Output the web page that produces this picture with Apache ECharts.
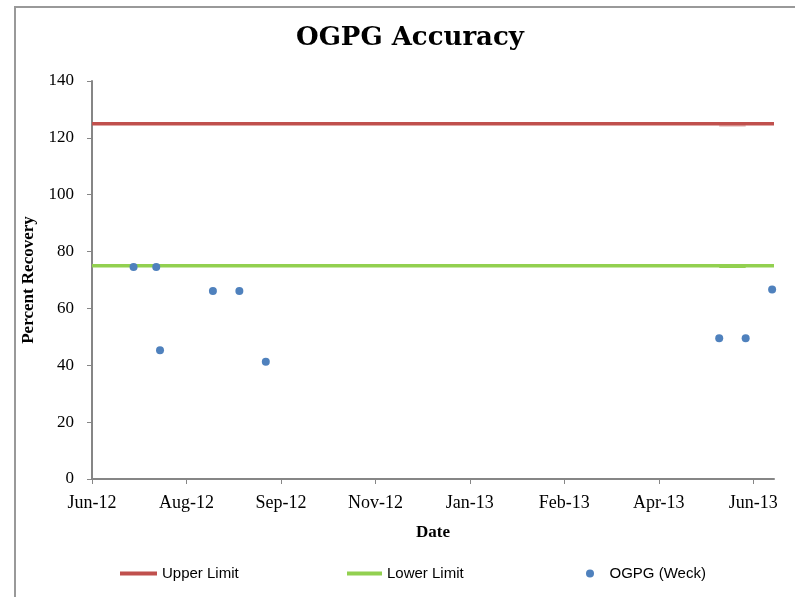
<!DOCTYPE html>
<html>
<head>
<meta charset="utf-8">
<script src="https://cdn.jsdelivr.net/npm/echarts@6/dist/echarts.min.js"></script>
<style>
  html, body { margin: 0; padding: 0; background: #fff; }
  #chart { width: 795px; height: 597px; }
</style>
</head>
<body>
<div id="chart"></div>
<script>
// axis range and tick spacing (Excel date axis, 50-day major unit)
const axisStart = '2012-06-18'
const axisEnd = '2013-06-14'
const tickDays = 50

// limit lines
const limitDates = ['2012-06-18', '2013-06-14']
const upperLimit = [125, 125]
const lowerLimit = [75, 75]
// short overlapping limit segment drawn twice in the original
const overlapDates = ['2013-05-16', '2013-05-30']
const upperOverlap = [124.5, 124.5]
const lowerOverlap = [74.8, 74.8]

// OGPG (Weck) measurements
const sampleDates = [
  '2012-07-10', '2012-07-22', '2012-07-24', '2012-08-21', '2012-09-04',
  '2012-09-18', '2013-05-16', '2013-05-30', '2013-06-13',
]
const recovery = [74.6, 74.6, 45.3, 66.1, 66.1, 41.2, 49.5, 49.5, 66.7]

const yTicks = [0, 20, 40, 60, 80, 100, 120, 140]

const DAY = 86400000
const MONTHS = ['Jan', 'Feb', 'Mar', 'Apr', 'May', 'Jun', 'Jul', 'Aug', 'Sep', 'Oct', 'Nov', 'Dec']
const toTime = (s) => {
  const p = s.split('-').map(Number)
  return Date.UTC(p[0], p[1] - 1, p[2])
}
const fmtDate = (t) => {
  const d = new Date(t)
  return MONTHS[d.getUTCMonth()] + '-' + String(d.getUTCFullYear()).slice(2)
}

const xMin = toTime(axisStart)
const xMax = toTime(axisEnd)
const xTicks = []
for (let t = xMin; t <= xMax; t += tickDays * DAY) xTicks.push(t)

const pairs = (dates, vals) => dates.map((d, i) => [toTime(d), vals[i]])

const axisGray = '#868686'
const serif = 'Liberation Serif'
const red = '#C0504D'
const green = '#92D050'
const blue = '#4F81BD'

const myChart = echarts.init(document.getElementById('chart'))

const legendText = { fontFamily: 'Liberation Sans', fontSize: 15, color: '#000' }
const legendBase = {
  top: 566,
  padding: 0,
  textStyle: legendText,
  selectedMode: false,
}

const options = {
  animation: false,
  backgroundColor: '#fff',
  textStyle: { fontFamily: serif },
  title: {
    text: 'OGPG Accuracy',
    left: 296,
    top: 25,
    padding: 0,
    textStyle: { fontFamily: 'DejaVu Serif', fontWeight: 'bold', fontSize: 26, color: '#000' },
  },
  graphic: [
    {
      type: 'rect',
      silent: true,
      shape: { x: 15, y: 7, width: 820, height: 620 },
      style: { fill: 'none', stroke: '#999', lineWidth: 2 },
    },
  ],
  legend: [
    Object.assign({}, legendBase, { left: 120, data: ['Upper Limit'], icon: 'rect', itemWidth: 37, itemHeight: 4 }),
    Object.assign({}, legendBase, { left: 347, data: ['Lower Limit'], icon: 'rect', itemWidth: 35, itemHeight: 4 }),
    Object.assign({}, legendBase, {
      left: 586,
      data: ['OGPG (Weck)'],
      icon: 'circle',
      itemWidth: 19,
      itemHeight: 8,
      textStyle: Object.assign({}, legendText, { padding: [0, 0, 0, 5] }),
    }),
  ],
  grid: { left: 92, right: 21, top: 81, bottom: 118 },
  xAxis: {
    type: 'value',
    min: xMin,
    max: xMax,
    name: 'Date',
    nameLocation: 'middle',
    nameGap: 45,
    nameTextStyle: { fontFamily: serif, fontWeight: 'bold', fontSize: 17, color: '#000' },
    axisLine: { show: true, lineStyle: { color: axisGray, width: 2 } },
    axisTick: { show: true, length: 5, lineStyle: { color: axisGray, width: 1 }, customValues: xTicks },
    axisLabel: {
      customValues: xTicks,
      formatter: fmtDate,
      margin: 15,
      fontFamily: serif,
      fontSize: 18,
      color: '#000',
    },
    splitLine: { show: false },
  },
  yAxis: {
    type: 'value',
    min: 0,
    max: 140,
    interval: 20,
    name: 'Percent Recovery',
    nameLocation: 'middle',
    nameGap: 46,
    nameTextStyle: { fontFamily: serif, fontWeight: 'bold', fontSize: 17, color: '#000' },
    axisLine: { show: true, lineStyle: { color: axisGray, width: 2 } },
    axisTick: { show: true, length: 5, lineStyle: { color: axisGray, width: 1 }, customValues: yTicks },
    axisLabel: { customValues: yTicks, margin: 18, fontFamily: serif, fontSize: 17, color: '#000' },
    splitLine: { show: false },
  },
  series: [
    {
      name: 'Upper Limit',
      type: 'line',
      symbol: 'none',
      data: pairs(overlapDates, upperOverlap),
      lineStyle: { color: red, width: 3.5, opacity: 0.35 },
      itemStyle: { color: red },
      z: 1,
    },
    {
      name: 'Lower Limit',
      type: 'line',
      symbol: 'none',
      data: pairs(overlapDates, lowerOverlap),
      lineStyle: { color: green, width: 3.5 },
      itemStyle: { color: green },
      z: 1,
    },
    {
      name: 'Upper Limit',
      type: 'line',
      symbol: 'none',
      data: pairs(limitDates, upperLimit),
      lineStyle: { color: red, width: 3.5 },
      itemStyle: { color: red },
      z: 2,
    },
    {
      name: 'Lower Limit',
      type: 'line',
      symbol: 'none',
      data: pairs(limitDates, lowerLimit),
      lineStyle: { color: green, width: 3.5 },
      itemStyle: { color: green },
      z: 2,
    },
    {
      name: 'OGPG (Weck)',
      type: 'scatter',
      symbol: 'circle',
      symbolSize: 8,
      data: pairs(sampleDates, recovery),
      itemStyle: { color: blue, opacity: 1 },
      z: 3,
    },
  ],
}

myChart.setOption(options)
</script>
</body>
</html>
